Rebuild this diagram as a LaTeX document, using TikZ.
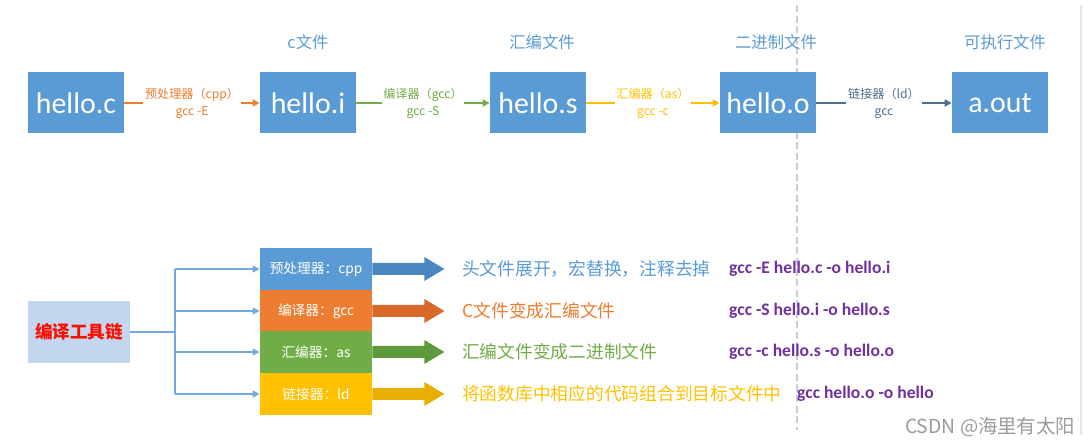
\documentclass[tikz,border=0pt]{standalone}
\usepackage{fontspec}
\setmainfont{Noto Sans CJK SC}
\newfontfamily\latinf{Carlito}
\usetikzlibrary{arrows.meta}

\definecolor{fblue}{HTML}{5B9BD5}
\definecolor{forange}{HTML}{ED7D31}
\definecolor{fgreen}{HTML}{70AD47}
\definecolor{fyellow}{HTML}{FFC000}
\definecolor{flink}{HTML}{4F6E8F}
\definecolor{ablue}{HTML}{4A86BF}
\definecolor{aorange}{HTML}{D9692A}
\definecolor{agreen}{HTML}{5E9A3C}
\definecolor{ayellow}{HTML}{E8AE05}
\definecolor{tcbg}{HTML}{C3D6EF}
\definecolor{cmd}{HTML}{7030A0}
\definecolor{wmark}{HTML}{9A9A9A}

\tikzset{
  filebox/.style={fill=fblue, text=white, minimum width=1.92cm, minimum height=1.22cm,
    font=\latinf\fontsize{17}{17}\selectfont},
  kind/.style={text=fblue, font=\fontsize{9.3}{9}\selectfont},
  tool/.style={line width=0.9pt, -{Triangle[length=4pt,width=4pt]}},
  toollabel/.style={fill=white, align=center, inner sep=1pt, font=\fontsize{6.9}{9.5}\selectfont},
  stagebox/.style={fill=#1, text=white, minimum width=2.24cm, minimum height=0.83cm,
    font=\fontsize{7.8}{8}\selectfont},
  desc/.style={anchor=west, text=#1, font=\fontsize{10.1}{11}\selectfont},
  gcccmd/.style={anchor=west, text=cmd, font=\latinf\bfseries\fontsize{10}{11}\selectfont},
  tree/.style={draw=fblue!85!white, line width=0.6pt},
}

\begin{document}
\begin{tikzpicture}[x=0.02cm,y=-0.02cm]
\useasboundingbox (0,0) rectangle (1089,445);
% frame and dashed divider
\draw[black!10, line width=1.2pt] (1081,5) -- (1081,435);
\draw[black!20, line width=0.6pt, dash pattern=on 4pt off 2pt] (797,5) -- (797,430);

% files
\node (hc) [filebox] at (76,103) {hello.c};
\node (hi) [filebox] at (308,103) {hello.i};
\node (hs) [filebox] at (538,103) {hello.s};
\node (ho) [filebox] at (768,103) {hello.o};
\node (ao) [filebox] at (1000,103) {a.out};
\node (ki) [kind] at (308,42) {c文件};
\node (ks) [kind] at (542,42) {汇编文件};
\node (ko) [kind] at (776,42) {二进制文件};
\node (ka) [kind] at (1005,42) {可执行文件};

% tools between files
\draw[tool, forange] (hc) -- (hi)
    node[toollabel, midway, text=forange] {预处理器（cpp）\\gcc -E};
\draw[tool, fgreen] (hi) -- (hs)
    node[toollabel, midway, text=fgreen] {编译器（gcc）\\gcc -S};
\draw[tool, fyellow] (hs) -- (ho)
    node[toollabel, midway, text=fyellow] {汇编器（as）\\gcc -c};
\draw[tool, flink] (ho) -- (ao)
    node[toollabel, midway, text=flink] {链接器（ld）\\gcc};

% tool chain
\node (tc) [fill=tcbg, text=red!90!orange, minimum width=2.04cm, minimum height=1.24cm,
    font=\bfseries\fontsize{10}{10}\selectfont] at (79,332) {编译工具链};
\node (pp) [stagebox=fblue] at (316,269) {预处理器：cpp};
\node (cc) [stagebox=forange] at (316,311) {编译器：gcc};
\node (as) [stagebox=fgreen] at (316,352) {汇编器：as};
\node (ld) [stagebox=fyellow] at (316,394) {链接器：ld};
\coordinate (br) at (175,332);
\draw[tree] (tc) -- (br);
\draw[tree] (br |- pp) -- (br |- ld);
\foreach \n in {pp,cc,as,ld}
  \draw[tree, -{Triangle[length=4pt,width=4pt]}] (br |- \n) -- (\n.west);
\foreach \n/\c in {pp/ablue,cc/aorange,as/agreen,ld/ayellow}
  \fill[\c] (\n.east) ++(0,-6) -- ++(52,0) -- ++(0,-6) -- ++(20,12)
    -- ++(-20,12) -- ++(0,-6) -- ++(-52,0) -- cycle;

% what each stage does
\node (dpp) [desc=fblue] at (456,269) {头文件展开，宏替换，注释去掉};
\node (dcc) [desc=forange] at (456,311) {C文件变成汇编文件};
\node (das) [desc=fgreen] at (456,352) {汇编文件变成二进制文件};
\node (dld) [desc=fyellow] at (456,394) {将函数库中相应的代码组合到目标文件中};
\node (gpp) [gcccmd] at (723,269) {gcc -E hello.c -o hello.i};
\node (gcc) [gcccmd] at (723,311) {gcc -S hello.i -o hello.s};
\node (gas) [gcccmd] at (723,352) {gcc -c hello.s -o hello.o};
\node (gld) [gcccmd] at (791,394) {gcc hello.o -o hello};

\node (wm) [text=wmark, font=\fontsize{11}{11}\selectfont] at (990,427) {CSDN @海里有太阳};
\end{tikzpicture}
\end{document}
